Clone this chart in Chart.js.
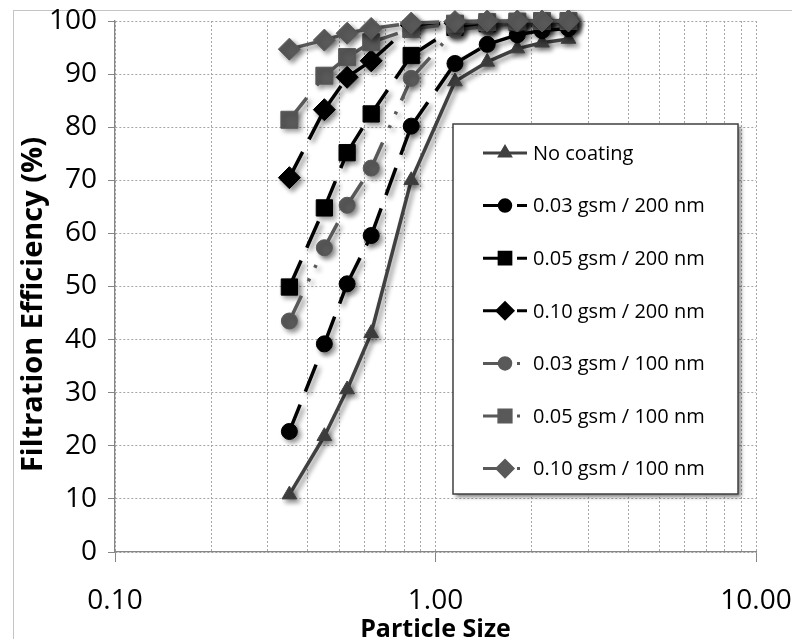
<!DOCTYPE html>
<html>
<head>
<meta charset="utf-8">
<script src="https://cdn.jsdelivr.net/npm/chart.js@4.4.0/dist/chart.umd.min.js"></script>
<style>
  html, body { margin: 0; padding: 0; background: #fff; }
  #wrap { width: 792px; height: 639px; }
</style>
</head>
<body>
<div id="wrap"><canvas id="filterChart"></canvas></div>
<script>
// particle size (um) and filtration efficiency (%) per coating
const particleSizes = [0.35, 0.45, 0.53, 0.63, 0.84, 1.15, 1.45, 1.8, 2.15, 2.6];
const noCoating   = [10.8, 21.8, 30.6, 41.2, 70.0, 88.6, 92.3, 94.8, 95.9, 96.6];
const gsm003nm200 = [22.7, 39.2, 50.5, 59.6, 80.2, 92.0, 95.6, 97.4, 98.2, 98.6];
const gsm005nm200 = [49.9, 64.8, 75.2, 82.5, 93.5, 98.8, 99.5, 99.7, 99.8, 99.9];
const gsm010nm200 = [70.5, 83.3, 89.4, 92.5, 99.2, 99.6, 99.8, 99.9, 99.9, 100];
const gsm003nm100 = [43.5, 57.3, 65.3, 72.3, 89.2, 98.3, 99.0, 99.5, 99.7, 99.8];
const gsm005nm100 = [81.4, 89.7, 93.2, 96.0, 98.5, 99.5, 99.8, 99.9, 100, 100];
const gsm010nm100 = [94.7, 96.4, 97.7, 98.6, 99.6, 99.9, 100, 100, 100, 100];

const seriesNames = ['No coating', '0.03 gsm / 200 nm', '0.05 gsm / 200 nm', '0.10 gsm / 200 nm',
                     '0.03 gsm / 100 nm', '0.05 gsm / 100 nm', '0.10 gsm / 100 nm'];
const seriesValues = [noCoating, gsm003nm200, gsm005nm200, gsm010nm200, gsm003nm100, gsm005nm100, gsm010nm100];

const xGridValues = [0.1, 0.2, 0.3, 0.4, 0.5, 0.6, 0.7, 0.8, 0.9, 1, 2, 3, 4, 5, 6, 7, 8, 9, 10];
const yTickStep = 10;
const xTitle = 'Particle Size';
const yTitle = 'Filtration Efficiency (%)';

// line / marker look for each series
const BLACK = '#000000', GRAY = '#595959', DARK = '#404040';
const DASH = [29, 14], DOTS = [28, 16, 3, 12, 3, 12];
const looks = [
  { color: DARK,  style: 'triangle', r: 8.5,  dash: [],   legendDash: [] },
  { color: BLACK, style: 'circle',   r: 8,    dash: DASH, legendDash: [22, 12] },
  { color: BLACK, style: 'rect',     r: 11.5, dash: DASH, legendDash: [22, 12] },
  { color: BLACK, style: 'rectRot',  r: 11,   dash: DASH, legendDash: [22, 12] },
  { color: GRAY,  style: 'circle',   r: 8,    dash: DOTS, legendDash: [22, 12, 3, 12] },
  { color: GRAY,  style: 'rect',     r: 12,   dash: DOTS, legendDash: [22, 12, 3, 12] },
  { color: GRAY,  style: 'rectRot',  r: 11,   dash: DOTS, legendDash: [22, 12, 3, 12] }
];

const isDecade = v => Math.abs(Math.log10(v) - Math.round(Math.log10(v))) < 1e-9;

const datasets = seriesValues.map((vals, i) => ({
  label: seriesNames[i],
  data: vals.map((v, k) => ({ x: particleSizes[k], y: v })),
  borderColor: looks[i].color,
  backgroundColor: looks[i].color,
  borderWidth: 3.5,
  borderDash: looks[i].dash,
  // restart the dash pattern at every point
  segment: { borderDashOffset: c => c.p0DataIndex * 0.0001 },
  pointStyle: looks[i].style,
  pointRadius: looks[i].r,
  pointBorderWidth: 1,
  pointBorderColor: looks[i].color,
  pointBackgroundColor: looks[i].color,
  tension: 0,
  clip: false,
  order: 6 - i
}));

// outer frame of the chart
const frame = {
  id: 'frame',
  beforeDraw(chart) {
    const c = chart.ctx;
    c.save();
    c.strokeStyle = '#c4c4c4';
    c.lineWidth = 1;
    c.strokeRect(13.5, 10.5, chart.width + 20, chart.height + 20);
    c.restore();
  }
};

// soft drop shadow under the series
const seriesShadow = {
  id: 'seriesShadow',
  beforeDatasetsDraw(chart) {
    const c = chart.ctx;
    c.save();
    c.shadowColor = 'rgba(0,0,0,0.45)';
    c.shadowBlur = 5;
    c.shadowOffsetX = 3;
    c.shadowOffsetY = 3;
  },
  afterDatasetsDraw(chart) {
    chart.ctx.restore();
  }
};

// vertical axis title, sitting a little below the middle of the axis
const yAxisTitle = {
  id: 'yAxisTitle',
  afterDraw(chart) {
    const c = chart.ctx;
    const a = chart.chartArea;
    c.save();
    c.translate(34, (a.top + a.bottom) / 2 + 18);
    c.rotate(-Math.PI / 2);
    c.fillStyle = '#000';
    c.font = 'bold 29px "Open Sans"';
    c.textAlign = 'center';
    c.textBaseline = 'middle';
    c.fillText(yTitle, 0, 0);
    c.restore();
  }
};

// boxed legend inside the plot area
const boxLegend = {
  id: 'boxLegend',
  afterDraw(chart) {
    const c = chart.ctx;
    const a = chart.chartArea;
    const bx = a.left + 338, by = a.top + 103, bw = 285, bh = 370;
    c.save();
    c.shadowColor = 'rgba(0,0,0,0.5)';
    c.shadowBlur = 4;
    c.shadowOffsetX = 3;
    c.shadowOffsetY = 3;
    c.fillStyle = '#ffffff';
    c.fillRect(bx, by, bw, bh);
    c.restore();
    c.save();
    c.strokeStyle = '#404040';
    c.lineWidth = 1.5;
    c.strokeRect(bx, by, bw, bh);

    chart.data.datasets.forEach((ds, i) => {
      const y = by + 29 + i * 52.6;
      const x0 = bx + 30, x1 = bx + 74, xm = bx + 52;
      c.strokeStyle = ds.borderColor;
      c.fillStyle = ds.borderColor;
      c.lineWidth = 3;
      c.setLineDash(looks[i].legendDash);
      c.beginPath();
      c.moveTo(x0, y);
      c.lineTo(x1, y);
      c.stroke();
      c.setLineDash([]);
      Chart.helpers.drawPoint(c, {
        pointStyle: ds.pointStyle, radius: ds.pointRadius * 0.72, rotation: 0, borderWidth: 1
      }, xm, y);
      c.fillStyle = '#000';
      c.font = '20px "Open Sans"';
      c.textBaseline = 'middle';
      c.textAlign = 'left';
      c.fillText(ds.label, bx + 80, y + 1);
    });
    c.restore();
  }
};

new Chart(document.getElementById('filterChart'), {
  type: 'line',
  data: { datasets },
  plugins: [frame, seriesShadow, yAxisTitle, boxLegend],
  options: {
    responsive: true,
    maintainAspectRatio: false,
    animation: false,
    layout: { padding: { left: 0, top: 21, right: 36, bottom: 0 } },
    plugins: { legend: { display: false }, tooltip: { enabled: false } },
    scales: {
      x: {
        type: 'logarithmic',
        min: 0.1,
        max: 10,
        afterFit: s => { s.height = 87; s.paddingLeft = 0; s.paddingRight = 0; },
        afterBuildTicks: s => { s.ticks = xGridValues.map(v => ({ value: v })); },
        ticks: {
          autoSkip: false,
          maxRotation: 0,
          padding: 22,
          color: '#000',
          font: { family: 'Open Sans', size: 28 },
          callback: v => isDecade(v) ? v.toFixed(2) : ''
        },
        grid: {
          color: '#a6a6a6',
          lineWidth: 1,
          tickLength: 10,
          tickColor: c => (c.tick && isDecade(c.tick.value)) ? '#868686' : 'rgba(0,0,0,0)'
        },
        border: { display: true, color: '#868686', width: 1.3, dash: [2, 2] },
        title: {
          display: true,
          text: xTitle,
          color: '#000',
          padding: { top: 0, bottom: -3 },
          font: { family: 'Open Sans', size: 25, weight: 'bold', lineHeight: 1 }
        }
      },
      y: {
        min: 0,
        max: 100,
        afterFit: s => { s.width = 115; s.paddingTop = 0; s.paddingBottom = 0; },
        ticks: {
          stepSize: yTickStep,
          padding: 11,
          color: '#000',
          font: { family: 'Open Sans', size: 28 }
        },
        grid: { color: '#a6a6a6', lineWidth: 1, tickLength: 7, tickColor: '#868686' },
        border: { display: true, color: '#868686', width: 1.3, dash: [2, 2] }
      }
    }
  }
});
</script>
</body>
</html>
